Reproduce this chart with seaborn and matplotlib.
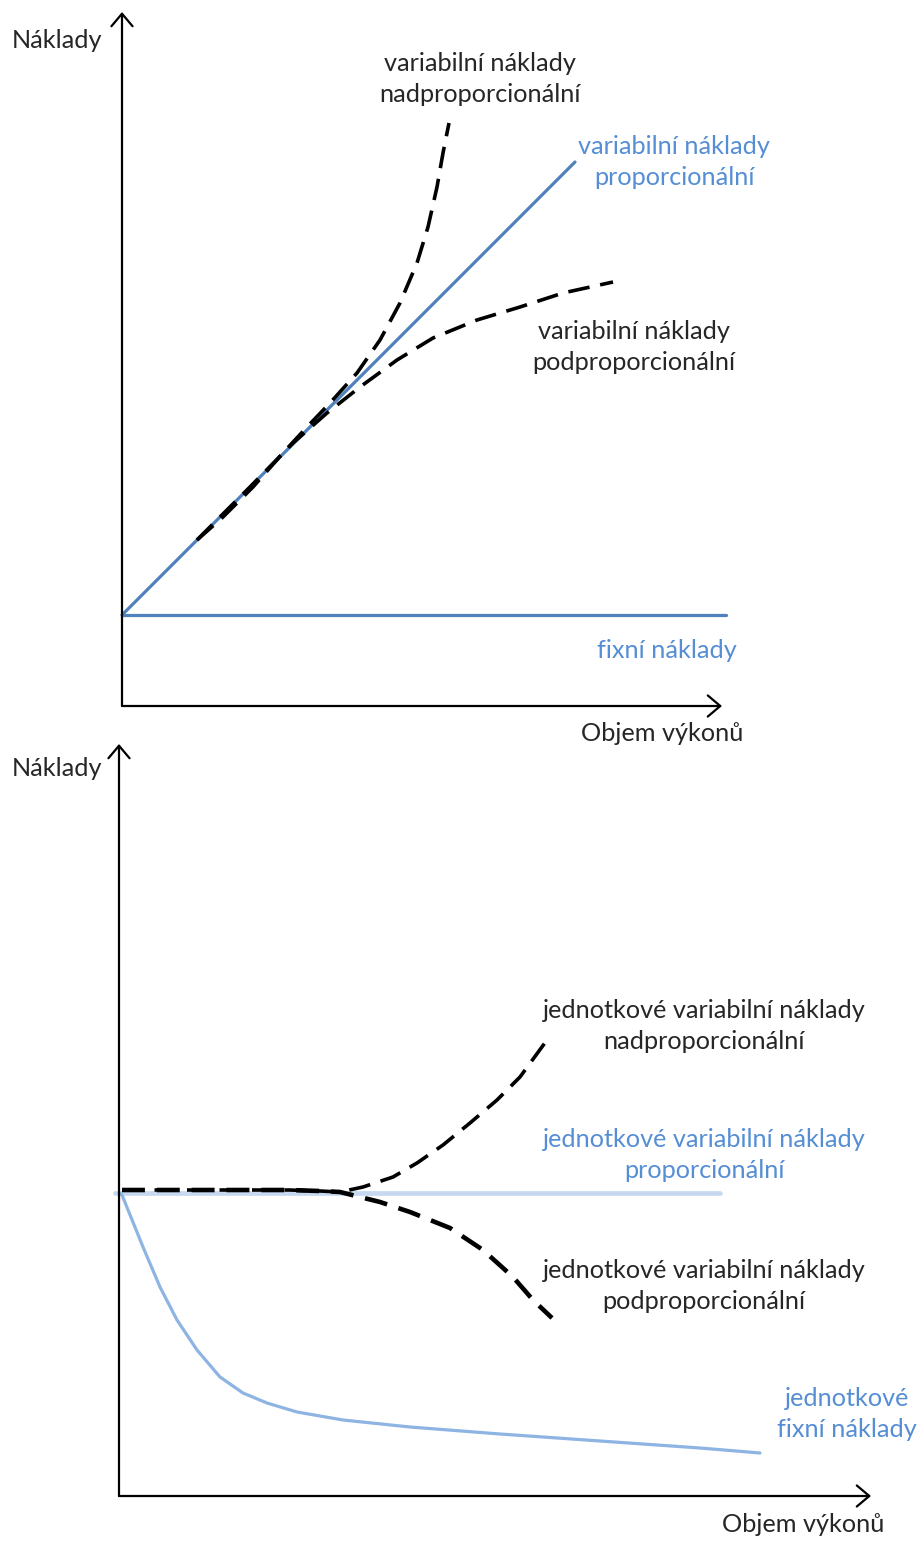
import matplotlib
matplotlib.use("Agg")
import matplotlib.pyplot as plt
import seaborn as sns

sns.set_style("white")
plt.rcParams['font.family'] = ['Lato', 'DejaVu Sans']

# ---------------- data (diagram units, origin at axis crossing) ----------------
# top panel: total costs vs. output
fixed_x = [0, 604]
fixed_y = [91, 91]
prop_x = [0, 453]
prop_y = [91, 544]
nad_x = [75, 101, 131, 161, 185, 208, 235, 258, 278, 295, 306, 315, 321, 327]
nad_y = [166, 189, 219, 253, 279, 303, 333, 366, 403, 443, 479, 519, 553, 583]
pod_x = [75, 128, 171, 205, 238, 275, 311, 355, 398, 441, 491]
pod_y = [166, 219, 263, 293, 319, 346, 368, 386, 399, 413, 424]

# bottom panel: unit costs vs. output
uprop_x = [-4, 601]
uprop_y = [303, 303]
unad_x = [3, 60, 120, 170, 201, 221, 244, 274, 298, 324, 351, 378, 401, 428]
unad_y = [306, 306, 306, 306, 305, 304, 309, 319, 333, 351, 373, 396, 419, 456]
upod_x = [3, 60, 120, 170, 201, 221, 241, 261, 291, 331, 364, 394, 414, 433]
upod_y = [306, 306, 306, 306, 305, 304, 299, 294, 284, 268, 246, 219, 196, 178]
ufix_x = [0, 3, 24, 41, 58, 78, 101, 124, 148, 178, 224, 291, 381, 481, 581, 641]
ufix_y = [303, 301, 249, 209, 176, 146, 119, 103, 93, 84, 76, 69, 62, 55, 48, 43]

C_BLUE = "#4F81BD"
C_TEXT_BLUE = "#558ED5"
C_LIGHT = "#C6D9F1"
C_MID = "#8DB4E2"
FS = 18.2
LS = 1.42

W, H = 918, 1542
fig = plt.figure(figsize=(W / 100, H / 100), dpi=100)

# top axes: pixel rows 0..740, origin at px (122, 706)
ax1 = fig.add_axes([0, (H - 740) / H, 1, 740 / H])
ax1.set_xlim(-122, W - 122)
ax1.set_ylim(706 - 740, 706)
# bottom axes: pixel rows 740..1542, origin at px (119, 1496)
ax2 = fig.add_axes([0, 0, 1, (H - 740) / H])
ax2.set_xlim(-119, W - 119)
ax2.set_ylim(1496 - H, 1496 - 740)

for ax in (ax1, ax2):
    ax.set_axis_off()

arrow_kw = dict(arrowstyle="->,head_length=0.45,head_width=0.38", color="black",
                lw=1.6, shrinkA=0, shrinkB=0, mutation_scale=20)
DASH = (0, (6, 3))

# ---- top panel ----
ax1.annotate("", xy=(0, 694), xytext=(0, 0), arrowprops=arrow_kw)
ax1.annotate("", xy=(600, 0), xytext=(0, 0), arrowprops=arrow_kw)

sns.lineplot(x=fixed_x, y=fixed_y, ax=ax1, color=C_BLUE, linewidth=2.3,
             sort=False, estimator=None)
sns.lineplot(x=prop_x, y=prop_y, ax=ax1, color=C_BLUE, linewidth=2.3,
             sort=False, estimator=None)
sns.lineplot(x=nad_x, y=nad_y, ax=ax1, color="black", linewidth=2.6,
             linestyle=DASH, sort=False, estimator=None)
sns.lineplot(x=pod_x, y=pod_y, ax=ax1, color="black", linewidth=2.6,
             linestyle=DASH, sort=False, estimator=None)

ax1.text(-20, 666, "Náklady", fontsize=FS, ha="right", va="center")
ax1.text(540, -28, "Objem výkonů", fontsize=FS, ha="center", va="center")
ax1.text(358, 627, "variabilní náklady\nnadproporcionální", fontsize=FS,
         ha="center", va="center", linespacing=LS)
ax1.text(552, 544, "variabilní náklady\nproporcionální", fontsize=FS,
         ha="center", va="center", linespacing=LS, color=C_TEXT_BLUE)
ax1.text(512, 359, "variabilní náklady\npodproporcionální", fontsize=FS,
         ha="center", va="center", linespacing=LS)
ax1.text(545, 55, "fixní náklady", fontsize=FS, ha="center", va="center",
         color=C_TEXT_BLUE)

# ---- bottom panel ----
ax2.annotate("", xy=(0, 752), xytext=(0, 0), arrowprops=arrow_kw)
ax2.annotate("", xy=(752, 0), xytext=(0, 0), arrowprops=arrow_kw)

sns.lineplot(x=uprop_x, y=uprop_y, ax=ax2, color=C_LIGHT, linewidth=3.4,
             sort=False, estimator=None)
sns.lineplot(x=ufix_x, y=ufix_y, ax=ax2, color=C_MID, linewidth=2.3,
             sort=False, estimator=None)
sns.lineplot(x=unad_x, y=unad_y, ax=ax2, color="black", linewidth=2.6,
             linestyle=DASH, sort=False, estimator=None)
sns.lineplot(x=upod_x, y=upod_y, ax=ax2, color="black", linewidth=3.3,
             linestyle=(0, (5, 2.6)), sort=False, estimator=None)

ax2.text(-17, 727, "Náklady", fontsize=FS, ha="right", va="center")
ax2.text(684, -29, "Objem výkonů", fontsize=FS, ha="center", va="center")
ax2.text(585, 470, "jednotkové variabilní náklady\nnadproporcionální",
         fontsize=FS, ha="center", va="center", linespacing=LS)
ax2.text(585, 341, "jednotkové variabilní náklady\nproporcionální",
         fontsize=FS, ha="center", va="center", linespacing=LS,
         color=C_TEXT_BLUE)
ax2.text(585, 210, "jednotkové variabilní náklady\npodproporcionální",
         fontsize=FS, ha="center", va="center", linespacing=LS)
ax2.text(728, 82, "jednotkové\nfixní náklady", fontsize=FS, ha="center",
         va="center", linespacing=LS, color=C_TEXT_BLUE)

fig.savefig("out.png", dpi=100)
